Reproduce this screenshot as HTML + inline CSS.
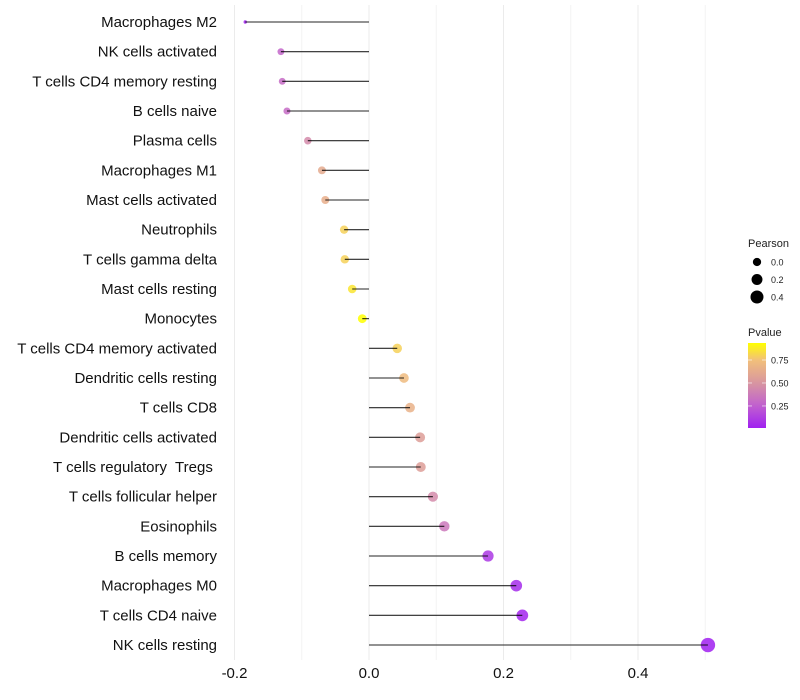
<!DOCTYPE html>
<html><head><meta charset="utf-8"><style>
body{margin:0;background:#fff;font-family:"Liberation Sans",sans-serif;}
svg{display:block}
text{white-space:pre}
</style></head><body>
<svg id="c" width="800" height="700"></svg>
<script>
const categories=["Macrophages M2","NK cells activated","T cells CD4 memory resting","B cells naive","Plasma cells","Macrophages M1","Mast cells activated","Neutrophils","T cells gamma delta","Mast cells resting","Monocytes","T cells CD4 memory activated","Dendritic cells resting","T cells CD8","Dendritic cells activated","T cells regulatory\u00a0 Tregs\u00a0","T cells follicular helper","Eosinophils","B cells memory","Macrophages M0","T cells CD4 naive","NK cells resting"];
const pearson=[-0.184,-0.131,-0.129,-0.122,-0.091,-0.070,-0.065,-0.037,-0.036,-0.025,-0.010,0.042,0.052,0.061,0.076,0.077,0.095,0.112,0.177,0.219,0.228,0.504];
const pvalue=[0.01,0.28,0.3,0.3,0.45,0.62,0.64,0.8,0.8,0.86,0.95,0.8,0.72,0.66,0.55,0.55,0.45,0.36,0.1,0.05,0.03,0.01];
const xTicks=[-0.2,0.0,0.2,0.4];
const xMinor=[-0.1,0.1,0.3,0.5];
const sizeLegend=[0.0,0.2,0.4];
const colorLegend=[0.25,0.50,0.75];
const NS="http://www.w3.org/2000/svg";
const svg=document.getElementById('c');
const X=v=>369+v*672.5;
const Y=i=>22+i*29.667;
const pMin=Math.min(...pearson);
const R=v=>v<=pMin+1e-9?1.7:Math.sqrt(Math.max(2,20+63*v));
const stops=[[0.01,[160,32,240]],[0.25,[192,96,208]],[0.5,[216,150,160]],[0.75,[242,192,122]],[0.935,[255,255,0]]];
function col(p){if(p<=stops[0][0])return rgb(stops[0][1]);for(let i=1;i<stops.length;i++){if(p<=stops[i][0]){const t=(p-stops[i-1][0])/(stops[i][0]-stops[i-1][0]);return rgb(stops[i-1][1].map((c,k)=>c+(stops[i][1][k]-c)*t));}}return rgb(stops[stops.length-1][1]);}
function rgb(a){return `rgb(${a.map(Math.round).join(',')})`;}
function el(t,a,txt){const e=document.createElementNS(NS,t);for(const k in a)e.setAttribute(k,a[k]);if(txt!==undefined)e.textContent=txt;svg.appendChild(e);return e;}
xMinor.forEach(v=>{const g=el('line',{x1:X(v),x2:X(v),y1:5,y2:660,stroke:'#f4f4f4','stroke-width':1});

});
xTicks.forEach(v=>{const g=el('line',{x1:X(v),x2:X(v),y1:5,y2:660,stroke:'#ebebeb','stroke-width':1});


const t=el('text',{x:X(v),y:678,'text-anchor':'middle','font-size':15,fill:'#111'},v.toFixed(1));

});
categories.forEach((c,i)=>{
const t=el('text',{x:217,y:Y(i)+5,'text-anchor':'end','font-size':15,fill:'#111'},c);


const p=el('circle',{cx:X(pearson[i]),cy:Y(i),r:R(pearson[i]),fill:col(pvalue[i]),'fill-opacity':0.85});


const s=el('line',{x1:X(0),x2:X(pearson[i]),y1:Y(i),y2:Y(i),stroke:'#000','stroke-width':1.1,'stroke-opacity':0.85});


});
let t=el('text',{x:748,y:247,'font-size':11,fill:'#222'},'Pearson');


sizeLegend.forEach((v,i)=>{const y=262+i*17.5;
const c=el('circle',{cx:757,cy:y,r:Math.sqrt(17.25+63*v),fill:'#000'});


const l=el('text',{x:771,y:y+3.5,'font-size':9,fill:'#222'},v.toFixed(1));

});
t=el('text',{x:748,y:336,'font-size':11,fill:'#222'},'Pvalue');


const defs=el('defs',{});
const lg=document.createElementNS(NS,'linearGradient');lg.setAttribute('id','g');lg.setAttribute('x1','0');lg.setAttribute('y1','1');lg.setAttribute('x2','0');lg.setAttribute('y2','0');defs.appendChild(lg);
for(let k=0;k<=10;k++){const p=0.01+k*(0.925/10);const s=document.createElementNS(NS,'stop');s.setAttribute('offset',k/10);s.setAttribute('stop-color',col(p));lg.appendChild(s);}
const PY=p=>428-(p-0.01)*(85/0.925);
const bar=el('rect',{x:748,y:343,width:18,height:85,fill:'url(#g)'});


colorLegend.forEach(v=>{const y=PY(v);
el('line',{x1:748,x2:752,y1:y,y2:y,stroke:'#fff','stroke-opacity':0.6});
el('line',{x1:762,x2:766,y1:y,y2:y,stroke:'#fff','stroke-opacity':0.6});
const l=el('text',{x:771,y:y+3.5,'font-size':9,fill:'#222'},v.toFixed(2));

});
</script>
</body></html>
